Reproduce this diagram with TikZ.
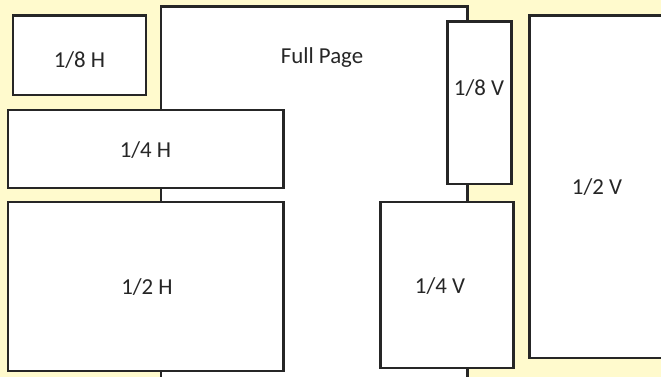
\documentclass[tikz,border=0pt]{standalone}
\usepackage{fontspec}
\setmainfont{Carlito}
\definecolor{paper}{HTML}{FFFACD}
\definecolor{edge}{HTML}{262626}
\tikzset{
  adbox/.style={draw=edge, fill=white, line width=1.7pt},
  adtext/.style={text=edge, font=\fontsize{13}{15}\selectfont, inner sep=0pt}
}
\begin{document}
\begin{tikzpicture}[x=0.02cm, y=-0.02cm]
\useasboundingbox (0,0) rectangle (661,377);
\clip (0,0) rectangle (661,377);
\fill [paper] (0,0) rectangle (661,377);
\draw [adbox] (161,7) rectangle (467,390);  % full page
\draw [adbox] (13,16) rectangle (146,95);
\draw [adbox] (8,110) rectangle (283,188);
\draw [adbox] (8,202) rectangle (283,371);
\draw [adbox] (447,22) rectangle (511,184);
\draw [adbox] (380,202) rectangle (513,368);
\draw [adbox] (529,16) rectangle (680,358);  % runs off the right side
\node [adtext] (full) at (322,58) {Full Page};
\node [adtext] (eighthH) at (79.5,60) {1/8 H};
\node [adtext] (quarterH) at (145.5,150) {1/4 H};
\node [adtext] (halfH) at (147,287) {1/2 H};
\node [adtext] (eighthV) at (479,88) {1/8 V};
\node [adtext] (quarterV) at (440,286) {1/4 V};
\node [adtext] (halfV) at (597,187) {1/2 V};
\end{tikzpicture}
\end{document}
